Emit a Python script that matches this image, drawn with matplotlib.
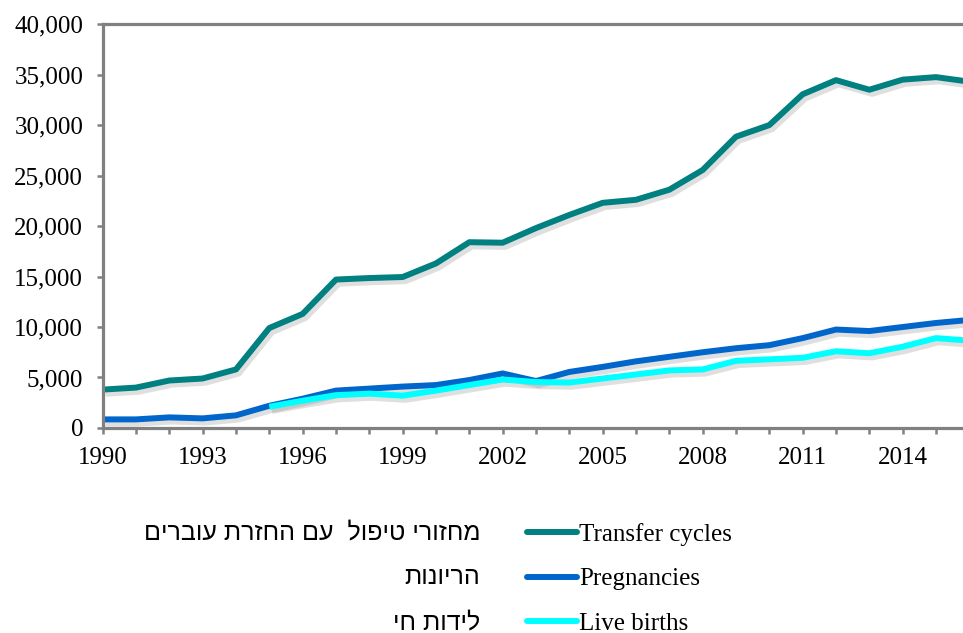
import matplotlib
matplotlib.use('Agg')
import matplotlib.pyplot as plt
import matplotlib.patheffects as pe
from matplotlib.ticker import FuncFormatter, MultipleLocator, FixedLocator

years = list(range(1990, 2017))
transfer_cycles = [3800, 4000, 4700, 4900, 5800, 9900, 11300, 14700, 14850, 14950,
                   16300, 18400, 18350, 19800, 21100, 22300, 22600, 23600, 25550,
                   28850, 30000, 33050, 34450, 33500, 34500, 34750, 34300]
pregnancies = [850, 850, 1050, 950, 1250, 2200, 2900, 3700, 3900, 4100,
               4250, 4750, 5400, 4650, 5550, 6050, 6600, 7050, 7500,
               7900, 8200, 8900, 9750, 9600, 10000, 10400, 10700]
birth_years = list(range(1995, 2017))
live_births = [2100, 2700, 3250, 3400, 3200, 3700, 4250, 4800, 4550, 4500,
               4900, 5300, 5700, 5800, 6650, 6800, 6950, 7600, 7400, 8050,
               8900, 8650]
year_ticks = list(range(1990, 2016, 3))

series_en = ['Transfer cycles', 'Pregnancies', 'Live births']
series_he = ['מחזורי טיפול  עם החזרת עוברים', 'הריונות', 'לידות חי']
colors = ['#008080', '#0066CC', '#00FFFF']

serif = ['Liberation Serif', 'DejaVu Serif']
sans = ['Liberation Sans', 'DejaVu Sans']

fig = plt.figure(figsize=(9.63, 6.33), dpi=100)
ax = fig.add_axes([0.1066, 0.3239, 0.8934, 0.638])

shadow = [pe.SimpleLineShadow(offset=(2, -3), shadow_color='gray', alpha=0.25), pe.Normal()]
lines = []
for xs, ys, c in [(years, transfer_cycles, colors[0]),
                  (years, pregnancies, colors[1]),
                  (birth_years, live_births, colors[2])]:
    ln, = ax.plot(xs, ys, color=c, lw=4.3, solid_capstyle='butt',
                  solid_joinstyle='round', path_effects=shadow)
    lines.append(ln)

ax.set_xlim(1990, 2015.81)
ax.set_ylim(0, 40000)
ax.xaxis.set_major_locator(FixedLocator(year_ticks))
ax.xaxis.set_minor_locator(MultipleLocator(1))
ax.yaxis.set_major_locator(MultipleLocator(5000))
ax.yaxis.set_major_formatter(FuncFormatter(lambda v, p: '{:,}'.format(int(v))))

for s in ['left', 'bottom', 'top']:
    ax.spines[s].set_color('#808080')
    ax.spines[s].set_linewidth(2.3)
    ax.spines[s].set_path_effects([pe.SimplePatchShadow(offset=(1, -2), shadow_rgbFace='gray', alpha=0.25), pe.Normal()])
ax.spines['right'].set_visible(False)

ax.tick_params(which='both', direction='out', color='#808080', width=1.8, length=4)
ax.tick_params(axis='x', which='major', pad=10)
ax.tick_params(axis='y', pad=10)
for lab in ax.get_xticklabels() + ax.get_yticklabels():
    lab.set_family(serif)
    lab.set_fontsize(18)

leg = fig.legend(lines, series_en, loc='upper left', bbox_to_anchor=(0.547, 0.174),
                 frameon=False, prop={'family': serif, 'size': 18},
                 handlelength=2.0, handletextpad=0.1, labelspacing=0.88,
                 borderpad=0, borderaxespad=0)
for hl in leg.get_lines():
    hl.set_path_effects([pe.Normal()])
    hl.set_solid_capstyle('round')

# matplotlib has no bidi support, so write Hebrew in visual order
rows_y = [532, 577, 622]
for he, py in zip(series_he, rows_y):
    fig.text(480 / 963, 1 - py / 633, he[::-1], ha='right', va='center',
             family=sans, fontsize=18)

fig.savefig('out.png', dpi=100)
